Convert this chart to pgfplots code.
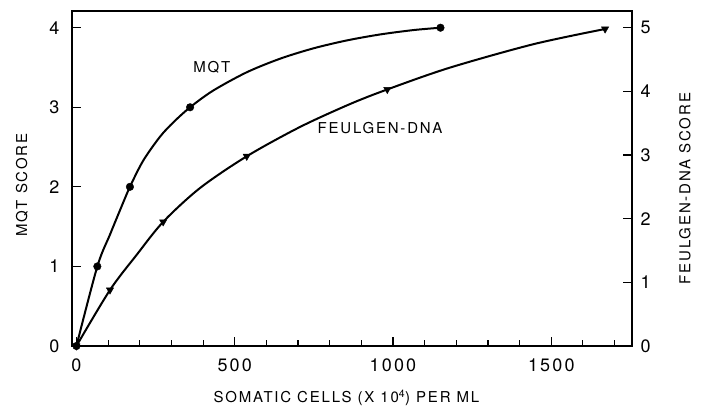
\documentclass[border=0pt]{standalone}
\usepackage{pgfplots}
\pgfplotsset{compat=1.18}
\usepackage{fontspec}
\setmainfont{TeX Gyre Heros}
\newfontfamily\spaced[LetterSpace=12]{TeX Gyre Heros}
\newcommand{\tickfont}{\spaced\fontsize{18}{18}\selectfont}
\newcommand{\labfont}{\spaced\fontsize{15}{16}\selectfont}
\begin{document}
\begin{tikzpicture}
\pgfplotsset{
  common/.style={
    scale only axis, width=560pt, height=335pt,
    xmin=-14, xmax=1755, clip=false,
    tick align=inside,
    axis line style={line width=1.4pt, black},
    tick style={line width=1.1pt, black},
    major tick length=9pt, minor tick length=6pt,
    ticklabel style={font=\tickfont},
    /pgf/number format/assume math mode=true,
    /pgf/number format/1000 sep={},
    label style={font=\labfont},
  }
}
\begin{axis}[common,
  ymin=0, ymax=4.21,
  xtick={0,500,1000,1500},
  minor xtick={100,200,300,400,600,700,800,900,1100,1200,1300,1400,1600,1700},
  ytick={0,1,2,3,4},
  xtick pos=bottom, ytick pos=left,
  xticklabel style={yshift=-9pt},
  yticklabel style={xshift=-9pt},
  xlabel={SOMATIC CELLS (X 10\textsuperscript{4}) PER ML},
  ylabel={MQT SCORE},
  xlabel style={at={([yshift=-52pt]axis description cs:0.49,0)}, anchor=center},
  ylabel style={at={([xshift=-50pt]axis description cs:0,0.48)}, anchor=center},
]
\coordinate (SW) at (rel axis cs:0,0);
\coordinate (NE) at (rel axis cs:1,1);
% MQT curve as drawn
\addplot[black, line width=2pt, smooth, tension=0.5, no markers] coordinates {
  (0,0) (66,1.0) (106,1.40) (137,1.70) (169,2.0) (211,2.33) (264,2.63)
  (306,2.81) (359,3.0) (432,3.21) (538,3.44) (643,3.61) (748,3.74)
  (854,3.84) (959,3.915) (1064,3.97) (1150,4.0)
};
% MQT data points
\addplot[only marks, black, mark=*, mark size=3.8pt] coordinates {
  (0,0) (66,1.0) (169,2.0) (359,3.0) (1150,4.0)
};
\node[font=\labfont] at (axis cs:428,3.5) {MQT};
\node[font=\labfont] at (axis cs:959,2.74) {FEULGEN-DNA};
\end{axis}
\begin{axis}[common,
  ymin=0, ymax=5.2625,
  axis x line=none, axis y line*=right,
  ytick={0,1,2,3,4,5},
  yticklabel style={xshift=5pt},
  ylabel={FEULGEN-DNA SCORE},
  ylabel style={at={([xshift=53pt]axis description cs:1,0.47)}, anchor=center},
]
% FEULGEN-DNA curve as drawn
\addplot[black, line width=2pt, smooth, tension=0.5, no markers] coordinates {
  (0,0) (106,0.88) (190,1.43) (274,1.95) (390,2.48) (538,2.98) (706,3.44)
  (864,3.80) (982,4.03) (1178,4.37) (1443,4.74) (1670,4.98)
};
% FEULGEN-DNA data points
\addplot[only marks, black, mark=triangle*, mark size=4.2pt,
  mark options={rotate=180}] coordinates {
  (0,0) (106,0.88) (274,1.95) (538,2.98) (982,4.03) (1670,4.98)
};
\end{axis}
\pgfresetboundingbox
\path ([shift={(-72pt,-65pt)}]SW) rectangle ([shift={(70pt,11pt)}]NE);
\end{tikzpicture}
\end{document}
